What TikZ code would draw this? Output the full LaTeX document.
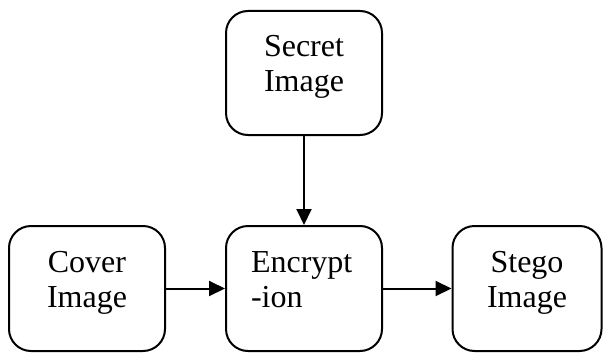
\documentclass[tikz,border=0pt]{standalone}
\usepackage{fontspec}
\setmainfont{Liberation Serif}
\newfontfamily\boxfont{Liberation Serif}
\usetikzlibrary{arrows.meta}
\begin{document}
\begin{tikzpicture}[x=1pt,y=-1pt,
  blk/.style={draw, line width=2pt, rounded corners=22pt, minimum width=156pt,
    minimum height=125pt, align=center, text height=57pt, text depth=20pt,
    font=\boxfont\fontsize{32}{35}\selectfont},
  flow/.style={line width=2pt, -{Triangle[length=16pt,width=15pt]}}]
\useasboundingbox (0,0) rectangle (604,353);

% boxes
\node[blk, minimum height=124pt] (secret) at (304,73) {Secret\\Image};
\node[blk] (cover) at (87,288.5) {Cover\\Image};
\node[blk, align=left, text width=106pt, text height=22pt, text depth=55pt]
  (encrypt) at (304,288.5) {Encrypt\\-ion};
\node[blk, minimum width=149pt] (stego) at (527,288.5) {Stego\\Image};

% arrows
\draw[flow] (secret) -- (encrypt);
\draw[flow] (cover) -- (encrypt);
\draw[flow] (encrypt) -- (stego);
\end{tikzpicture}
\end{document}
